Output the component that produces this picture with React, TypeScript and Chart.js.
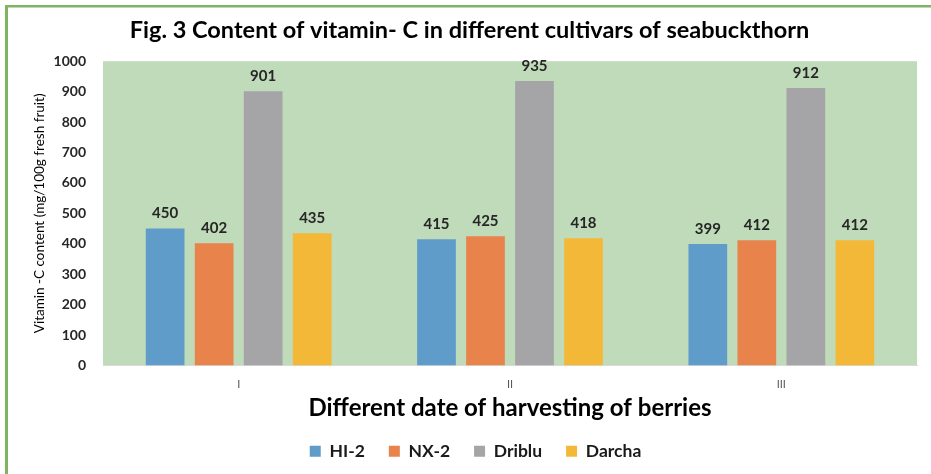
import React, { useEffect, useRef } from "react";
import { Chart, registerables } from "chart.js";

Chart.register(...registerables);

const categories = ["I", "II", "III"];
const seriesNames = ["HI-2", "NX-2", "Driblu", "Darcha"];
const hi2 = [450, 415, 399];
const nx2 = [402, 425, 412];
const driblu = [901, 935, 912];
const darcha = [435, 418, 412];
const yTicks = [0, 100, 200, 300, 400, 500, 600, 700, 800, 900, 1000];

const colors = ["#5F9CCA", "#E8834C", "#A5A5A8", "#F4B838"];
const FONT = "Lato, 'Open Sans', sans-serif";

const bgPlugin = {
  id: "bgPlugin",
  afterLayout(chart: any) {
    if (chart.titleBlock) {
      chart.titleBlock.left += 11;
      chart.titleBlock.right += 11;
    }
    if (chart.legend) {
      chart.legend.left += 17;
      chart.legend.right += 17;
    }
  },
  beforeDraw(chart: any) {
    const { ctx, chartArea } = chart;
    ctx.save();
    ctx.fillStyle = "#fff";
    ctx.fillRect(0, 0, chart.width, chart.height);
    ctx.fillStyle = "#C0DBB9";
    ctx.fillRect(chartArea.left, chartArea.top, chartArea.right - chartArea.left, chartArea.bottom - chartArea.top);
    ctx.fillStyle = "#7EB462";
    ctx.fillRect(5, 5, chart.width - 5, 2.5);
    ctx.fillRect(5, 5, 3, chart.height - 5);
    ctx.restore();
  },
};

const labelPlugin = {
  id: "labelPlugin",
  afterDatasetsDraw(chart: any) {
    const { ctx } = chart;
    ctx.save();
    ctx.font = `bold 15px ${FONT}`;
    ctx.fillStyle = "#262626";
    ctx.textAlign = "center";
    ctx.textBaseline = "middle";
    chart.data.datasets.forEach((ds: any, i: number) => {
      const meta = chart.getDatasetMeta(i);
      meta.data.forEach((el: any, j: number) => {
        ctx.fillText(String(ds.data[j]), el.x, el.y - 15);
      });
    });
    ctx.restore();
  },
};

export default function App() {
  const ref = useRef<HTMLCanvasElement>(null);
  useEffect(() => {
    if (!ref.current) return;
    const data = [hi2, nx2, driblu, darcha];
    const chart = new Chart(ref.current, {
      type: "bar",
      data: {
        labels: categories,
        datasets: seriesNames.map((name, i) => ({
          label: name,
          data: data[i],
          backgroundColor: colors[i],
          borderWidth: 0,
          categoryPercentage: 0.7225,
          barPercentage: 0.79,
        })),
      },
      options: {
        responsive: false,
        animation: false,
        devicePixelRatio: 1,
        layout: { padding: { left: 0, right: 14, top: 0, bottom: 4 } },
        plugins: {
          title: {
            display: true,
            text: "Fig. 3 Content of vitamin- C in different cultivars of seabuckthorn",
            font: { family: FONT, size: 23.5, weight: "bold" },
            color: "#000",
            padding: { top: 16, bottom: 17 },
          },
          legend: {
            position: "bottom",
            labels: {
              boxWidth: 11,
              boxHeight: 11,
              padding: 24,
              color: "#1a1a1a",
              font: { family: FONT, size: 17.5, weight: "bold" },
            },
          },
          tooltip: { enabled: false },
        },
        scales: {
          x: {
            afterFit(scale: any) {
              scale.height -= 9;
            },
            grid: { display: false, drawTicks: false },
            border: { display: true, color: "#D9D9D9", width: 1 },
            ticks: { color: "#595959", font: { family: FONT, size: 11 }, padding: 12 },
            title: {
              display: true,
              text: "Different date of harvesting of berries",
              color: "#000",
              font: { family: FONT, size: 24, weight: "bold" },
              padding: { top: 0, bottom: -4 },
            },
          },
          y: {
            min: 0,
            max: 1000,
            afterFit(scale: any) {
              scale.width = 103;
            },
            afterBuildTicks(scale: any) {
              scale.ticks = yTicks.map((v) => ({ value: v }));
            },
            grid: { display: false, drawTicks: false },
            border: { display: false },
            ticks: {
              color: "#262626",
              font: { family: FONT, size: 14, weight: "bold" },
              padding: 17,
              callback: (v: any) => String(v),
            },
            title: {
              display: true,
              text: "Vitamin -C content (mg/100g fresh fruit)",
              color: "#000",
              font: { family: FONT, size: 13.5 },
              padding: { top: 32, bottom: 0 },
            },
          },
        },
      },
      plugins: [bgPlugin, labelPlugin],
    });
    return () => chart.destroy();
  }, []);
  return (
    <div style={{ position: "absolute", left: 0, top: 0, width: 931, height: 474 }}>
      <canvas ref={ref} width={931} height={474} style={{ display: "block" }} />
    </div>
  );
}
